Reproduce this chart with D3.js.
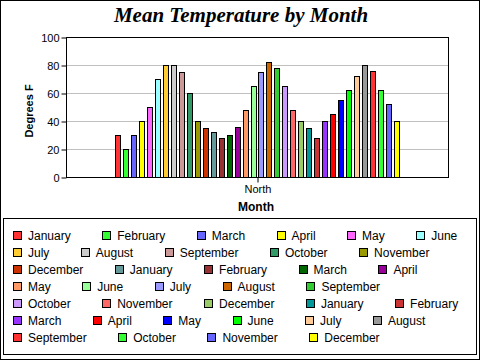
<!DOCTYPE html>
<html><head><meta charset="utf-8">
<script src="https://cdn.jsdelivr.net/npm/d3@7/dist/d3.min.js"></script>
<style>html,body{margin:0;padding:0;background:#fff;}svg{display:block;}</style>
</head><body>
<script>
const categories = ["North"];
const seriesNames = ["January","February","March","April","May","June","July","August","September","October","November","December",
  "January","February","March","April","May","June","July","August","September","October","November","December",
  "January","February","March","April","May","June","July","August","September","October","November","December"];
const seriesValues = [30,20,30,40,50,70,80,80,75,60,40,35,
  32,28,30,36,48,65,75,82,78,65,48,40,
  35,28,40,45,55,62,72,80,76,62,52,40];
const seriesColors = ["#FF3333","#33FF33","#6666FF","#FFFF00","#FF66FF","#99FFFF","#FFCC33","#CCCCCC","#CC9999","#339966","#999900","#CC3300",
  "#669999","#993333","#006600","#990099","#FF9966","#99FF99","#9999FF","#CC6600","#33CC33","#CC99FF","#FF6666","#99CC66",
  "#009999","#CC3333","#9933FF","#FF0000","#0000FF","#00FF00","#FFCC99","#999999","#FF3333","#33FF33","#6666FF","#FFFF00"];
const yTicks = [0,20,40,60,80,100];

const W = 480, H = 360;
const plot = {l:66, r:449, t:37, b:177};
const svg = d3.select("body").append("svg").attr("width",W).attr("height",H)
  .style("font-family","'Liberation Sans', Arial, sans-serif");

svg.append("rect").attr("x",0.5).attr("y",0.5).attr("width",W-1).attr("height",H-1)
  .attr("fill","#fff").attr("stroke","#000");

svg.append("text").attr("x",241).attr("y",22).attr("text-anchor","middle")
  .style("font-family","'Liberation Serif','Times New Roman',serif")
  .style("font-weight","bold").style("font-style","italic").style("font-size","21px")
  .text("Mean Temperature by Month");

const x0 = d3.scaleBand().domain(categories).range([plot.l, plot.r]).paddingInner(0).paddingOuter(0.165);
const x1 = d3.scaleBand().domain(d3.range(seriesValues.length)).range([0, x0.bandwidth()]).paddingInner(0.25).paddingOuter(0.125);
const y = d3.scaleLinear().domain([0,100]).range([plot.b, plot.t]);

// gridlines
svg.append("g").selectAll("line").data(yTicks.filter(d=>d>0 && d<100)).join("line")
  .attr("x1",plot.l).attr("x2",plot.r)
  .attr("y1",d=>Math.round(y(d))+0.5).attr("y2",d=>Math.round(y(d))+0.5)
  .attr("stroke","#C0C0C0");

// bars
const g = svg.append("g");
g.selectAll("rect").data(seriesValues).join("rect")
  .attr("x",(d,i)=>Math.round(x0("North")+x1(i))+0.5)
  .attr("y",d=>Math.round(y(d))+0.5)
  .attr("width",Math.round(x1.bandwidth())-1)
  .attr("height",d=>Math.round(y(0))-Math.round(y(d)))
  .attr("fill",(d,i)=>seriesColors[i]).attr("stroke","#000");

// plot border
svg.append("rect").attr("x",plot.l+0.5).attr("y",plot.t+0.5)
  .attr("width",plot.r-plot.l-1).attr("height",plot.b-plot.t).attr("fill","none").attr("stroke","#000");

// y axis
const yAxis = d3.axisLeft(y).tickValues(yTicks).tickSize(5).tickPadding(2).tickSizeOuter(0);
const ya = svg.append("g").attr("transform",`translate(${plot.l+0.5},0.5)`).call(yAxis);
ya.select(".domain").remove();
ya.selectAll("text").style("font-size","11px").style("font-family","'Liberation Sans', Arial, sans-serif").attr("fill","#000");
ya.selectAll("line").attr("stroke","#000");

// x axis
const xAxis = d3.axisBottom(x0).tickSize(5).tickPadding(3).tickSizeOuter(0);
const xa = svg.append("g").attr("transform",`translate(0.5,${plot.b+0.5})`).call(xAxis);
xa.select(".domain").remove();
xa.selectAll("text").style("font-size","11px").style("font-family","'Liberation Sans', Arial, sans-serif").attr("fill","#000");
xa.selectAll("line").attr("stroke","#000");

svg.append("text").attr("x",256).attr("y",210.5).attr("text-anchor","middle")
  .style("font-weight","bold").style("font-size","12px").text("Month");
svg.append("text").attr("transform","translate(33,111) rotate(-90)").attr("text-anchor","middle")
  .style("font-weight","bold").style("font-size","11px").text("Degrees F");

// legend
svg.append("rect").attr("x",3.5).attr("y",218.5).attr("width",473).attr("height",136)
  .attr("fill","#fff").attr("stroke","#000");
const lg = svg.append("g");
let lx = 13, row = 0;
const rowY0 = 235.5, rowH = 17, maxX = 467, gap = 31.5;
seriesNames.forEach((name,i)=>{
  const t = lg.append("text").style("font-size","12px").text(name);
  const tw = t.node().getComputedTextLength();
  if (lx + 15 + tw > maxX) { row++; lx = 13; }
  const cy = rowY0 + row*rowH;
  lg.append("rect").attr("x",Math.round(lx)+0.5).attr("y",Math.round(cy-4.5)+0.5)
    .attr("width",8).attr("height",8).attr("fill",seriesColors[i]).attr("stroke","#000");
  t.attr("x",lx+15).attr("y",cy+4.5);
  lx = lx + 15 + tw + gap;
});
</script>
</body></html>
